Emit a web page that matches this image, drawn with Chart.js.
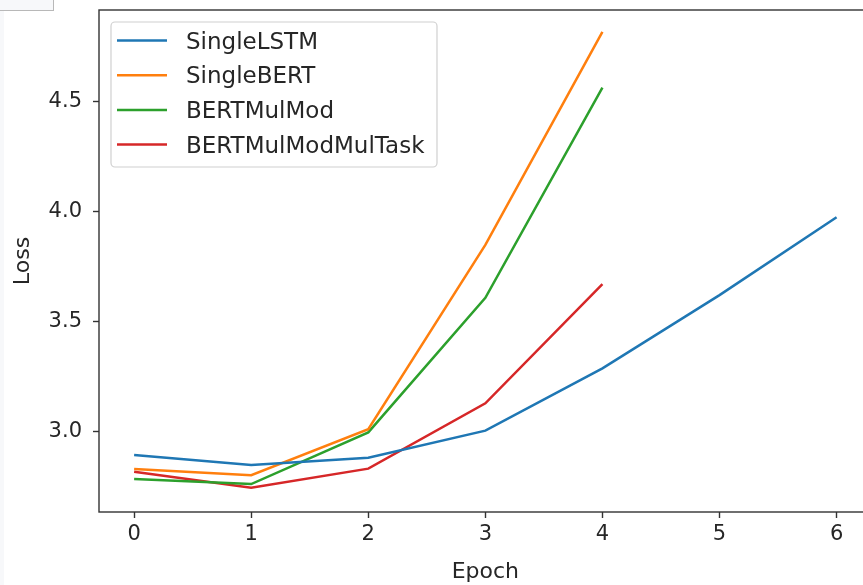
<!DOCTYPE html>
<html>
<head>
<meta charset="utf-8">
<script src="https://cdn.jsdelivr.net/npm/chart.js@4/dist/chart.umd.min.js"></script>
<style>
  html, body { margin: 0; padding: 0; background: #fff; overflow: hidden; }
  #wrap { position: relative; width: 863px; height: 585px; overflow: hidden; }
  #chart { position: absolute; left: 0; top: 0; }
  .corner { position: absolute; left: 0; top: 0; width: 53px; height: 10px; background: #f7f8fa;
            border-right: 1px solid #b8b8b8; border-bottom: 1px solid #b8b8b8; }
  .strip { position: absolute; left: 0; top: 11px; width: 4px; height: 574px; background: #f7f8fa; }
</style>
</head>
<body>
<div id="wrap">
  <canvas id="chart" width="880" height="585"></canvas>
  <div class="strip"></div>
  <div class="corner"></div>
</div>
<script>
// Loss per epoch for each model
const epochs = [0, 1, 2, 3, 4, 5, 6];
const singleLSTM = [2.894, 2.849, 2.882, 3.005, 3.288, 3.621, 3.975];
const singleBERT = [2.830, 2.802, 3.011, 3.849, 4.818];
const bertMulMod = [2.785, 2.762, 2.997, 3.609, 4.564];
const bertMulModMulTask = [2.818, 2.745, 2.832, 3.129, 3.671];

const seriesNames = ['SingleLSTM', 'SingleBERT', 'BERTMulMod', 'BERTMulModMulTask'];
const seriesColors = ['#1f77b4', '#ff7f0e', '#2ca02c', '#d62728'];
const xTicks = [0, 1, 2, 3, 4, 5, 6];
const yTicks = [3.0, 3.5, 4.0, 4.5];

const FONT = 'DejaVu Sans';
const FS = 21;      // tick labels
const FS_TITLE = 22; // axis titles
const FS_LEGEND = 23;
const INK = '#262626';

function pts(values) {
  return values.map((v, i) => ({ x: epochs[i], y: v }));
}

const allSeries = [singleLSTM, singleBERT, bertMulMod, bertMulModMulTask];
const datasets = allSeries.map((vals, i) => ({
  label: seriesNames[i],
  data: pts(vals),
  borderColor: seriesColors[i],
  backgroundColor: seriesColors[i],
  borderWidth: 2.5,
  pointRadius: 0,
  tension: 0,
  fill: false
}));

// Axes frame (all four sides)
const framePlugin = {
  id: 'frame',
  afterDatasetsDraw(chart) {
    const { ctx, chartArea: a } = chart;
    ctx.save();
    ctx.strokeStyle = '#333';
    ctx.lineWidth = 1.4;
    ctx.strokeRect(a.left, a.top, a.right - a.left, a.bottom - a.top);
    ctx.restore();
  }
};

// Boxed legend in the upper-left corner of the plot
const boxLegend = {
  id: 'boxLegend',
  afterDraw(chart) {
    const { ctx, chartArea: a } = chart;
    const x0 = a.left + 12, y0 = a.top + 12;
    const w = 326, h = 145, r = 4;
    ctx.save();
    ctx.beginPath();
    ctx.roundRect(x0, y0, w, h, r);
    ctx.fillStyle = 'rgba(255,255,255,0.8)';
    ctx.fill();
    ctx.strokeStyle = '#d0d0d0';
    ctx.lineWidth = 1.2;
    ctx.stroke();
    ctx.font = FS_LEGEND + 'px "' + FONT + '"';
    ctx.textBaseline = 'alphabetic';
    ctx.textAlign = 'left';
    chart.data.datasets.forEach((ds, i) => {
      const cy = y0 + 18.5 + i * 34.7;
      ctx.beginPath();
      ctx.moveTo(x0 + 6, cy);
      ctx.lineTo(x0 + 56, cy);
      ctx.strokeStyle = ds.borderColor;
      ctx.lineWidth = 2.5;
      ctx.stroke();
      ctx.fillStyle = INK;
      ctx.fillText(ds.label, x0 + 75, cy + 8.2);
    });
    ctx.restore();
  }
};

new Chart(document.getElementById('chart'), {
  type: 'line',
  data: { datasets },
  options: {
    responsive: false,
    animation: false,
    layout: { padding: { left: 10, top: 10, right: 8.3, bottom: 0 } },
    plugins: { legend: { display: false }, tooltip: { enabled: false } },
    scales: {
      x: {
        type: 'linear',
        min: -0.3,
        max: 6.3,
        afterBuildTicks(s) { s.ticks = xTicks.map(v => ({ value: v })); },
        afterFit(s) { s.height = 73; s.paddingLeft = 0; s.paddingRight = 0; },
        grid: { display: true, drawOnChartArea: false, drawTicks: true, tickLength: 6, tickColor: '#333', tickWidth: 1.4 },
        border: { display: false },
        ticks: { color: INK, font: { family: FONT, size: FS }, padding: 4, maxRotation: 0,
                 callback: v => String(v) },
        title: { display: true, text: 'Epoch', color: INK, font: { family: FONT, size: FS_TITLE }, padding: { top: 0, bottom: 0 } }
      },
      y: {
        type: 'linear',
        min: 2.635,
        max: 4.917,
        afterBuildTicks(s) { s.ticks = yTicks.map(v => ({ value: v })); },
        afterFit(s) { s.width = 89; s.paddingTop = 0; s.paddingBottom = 0; },
        grid: { display: true, drawOnChartArea: false, drawTicks: true, tickLength: 6, tickColor: '#333', tickWidth: 1.4 },
        border: { display: false },
        ticks: { color: INK, font: { family: FONT, size: FS }, padding: 11,
                 callback: v => Number(v).toFixed(1) },
        title: { display: true, text: 'Loss', color: INK, font: { family: FONT, size: FS_TITLE }, padding: { top: 0, bottom: 0 } }
      }
    }
  },
  plugins: [framePlugin, boxLegend]
});
</script>
</body>
</html>
